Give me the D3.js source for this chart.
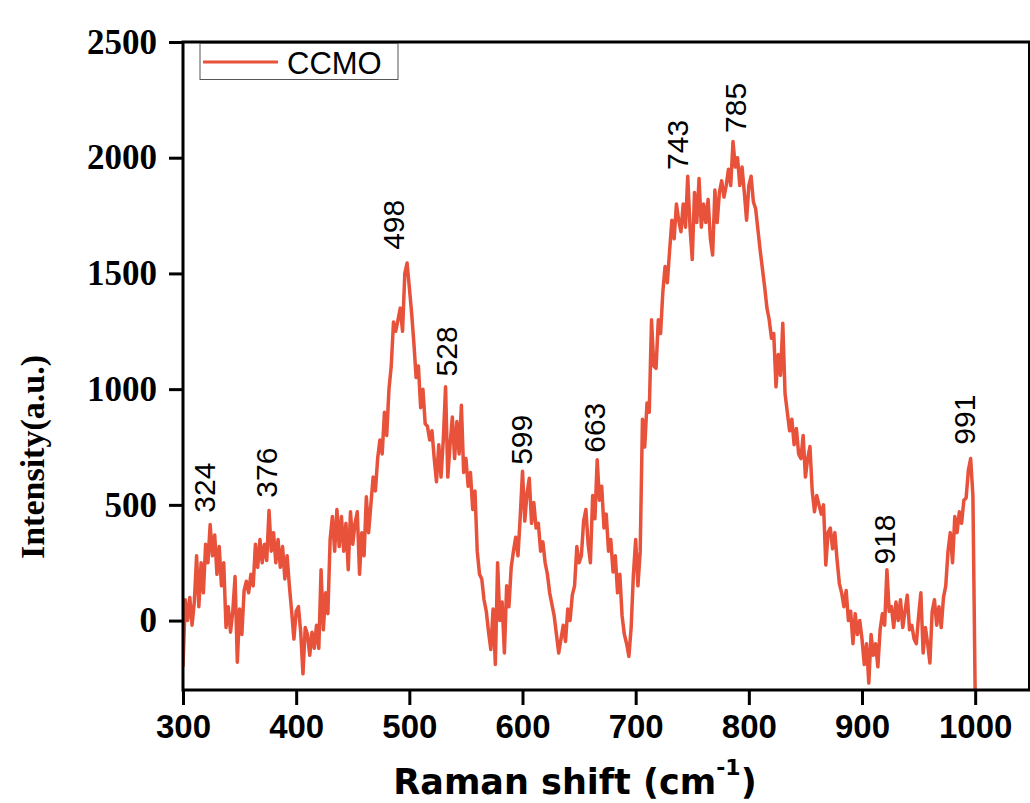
<!DOCTYPE html>
<html>
<head>
<meta charset="utf-8">
<script src="https://cdn.jsdelivr.net/npm/d3@7"></script>
<style>
  body { margin: 0; background: #fff; }
</style>
</head>
<body>
<div id="chart"></div>
<script>
// Raman shift grid, cm-1 (instrument step 2 cm-1)
const ramanShift = d3.range(300, 1001, 2);

// Intensity, a.u.
const intensity = [
  -200, 90, 0, 100, -20, 80, 280, 60, 250, 120,
  330, 250, 415, 280, 370, 200, 320, 150, 250, -30,
  60, -50, 40, 190, -180, 50, -60, 130, 170, 120,
  200, 150, 330, 230, 350, 250, 330, 260, 476, 300,
  380, 250, 350, 230, 320, 180, 280, 150, 40, -80,
  40, 60, -50, -230, -30, -60, -150, -50, -120, -20,
  -120, 220, -40, 120, 30, 350, 450, 300, 480, 320,
  450, 300, 420, 220, 470, 330, 420, 470, 200, 380,
  280, 535, 380, 500, 620, 560, 700, 780, 720, 900,
  800, 1000, 1100, 1290, 1250, 1300, 1350, 1250, 1500, 1545,
  1440, 1330, 1200, 1050, 1100, 920, 1000, 850, 840, 780,
  820, 700, 600, 760, 620, 780, 1010, 620, 760, 880,
  700, 860, 720, 930, 640, 700, 580, 640, 480, 560,
  300, 200, 180, 90, 40, -50, -125, 50, -190, 250,
  0, 80, -140, 150, 60, 230, 300, 360, 280, 450,
  645, 430, 550, 615, 420, 510, 400, 420, 300, 340,
  250, 200, 120, 70, 20, -60, -140, -80, -20, -90,
  50, 0, 110, 150, 320, 250, 280, 430, 480, 330,
  250, 540, 440, 695, 520, 580, 400, 460, 300, 350,
  210, 280, 120, 200, 20, -60, -100, -155, -30, 200,
  350, 150, 300, 870, 750, 940, 900, 1300, 1100, 1090,
  1300, 1240, 1420, 1530, 1460, 1600, 1730, 1650, 1800, 1730,
  1680, 1800, 1700, 1920, 1700, 1560, 1850, 1720, 1910, 1700,
  1800, 1720, 1820, 1650, 1580, 1860, 1720, 1850, 1900, 1830,
  1880, 1950, 1880, 2070, 1960, 2000, 1880, 1960, 1850, 1730,
  1880, 1920, 1810, 1780, 1690, 1600, 1520, 1440, 1350, 1300,
  1220, 1240, 1010, 1150, 1060, 1285, 980, 900, 820, 870,
  760, 830, 720, 700, 800, 620, 700, 752, 560, 470,
  540, 500, 460, 500, 240, 380, 400, 310, 380, 260,
  160, 120, 60, 130, 0, 40, -100, 30, -60, 0,
  -80, -190, -100, -270, -60, -150, -100, -200, -40, 30,
  -20, 220, 40, 60, -30, 80, 0, 90, -30, 40,
  110, -40, -20, -80, -100, 20, 120, -140, -30, -100,
  -183, 40, 90, -20, 60, -30, 100, 150, 300, 380,
  250, 450, 380, 470, 420, 520, 530, 650, 700, 540,
  -320
];

// Peak annotations
const peakLabels = ["324", "376", "498", "528", "599", "663", "743", "785", "918", "991"];
const peakLabelShift = [319, 374, 486, 533, 599, 664, 737, 788, 920, 991];
const peakLabelBase = [466, 531, 1602, 1055, 673, 725, 1947, 2107, 242, 760];

const xTicks = [300, 400, 500, 600, 700, 800, 900, 1000];
const yTicks = [0, 500, 1000, 1500, 2000, 2500];
const seriesName = "CCMO";

const width = 1030;
const height = 803;
const marginLeft = 183;
const marginTop = 42;
const plotRight = 1029.5;
const plotBottom = 690;
const lineColor = "#E8513A";

const svg = d3.select("#chart").append("svg")
  .attr("width", width)
  .attr("height", height);

const x = d3.scaleLinear().domain([300, 1048]).range([marginLeft, plotRight]);
const y = d3.scaleLinear().domain([-300, 2500]).range([plotBottom, marginTop]);

// clip for the curve
svg.append("clipPath").attr("id", "plot-clip")
  .append("rect")
  .attr("x", marginLeft).attr("y", marginTop)
  .attr("width", plotRight - marginLeft).attr("height", plotBottom - marginTop);

const points = ramanShift.map((s, i) => ({ s: s, v: intensity[i] }));

const line = d3.line()
  .x(d => x(d.s))
  .y(d => y(d.v));

svg.append("path")
  .datum(points)
  .attr("clip-path", "url(#plot-clip)")
  .attr("fill", "none")
  .attr("stroke", lineColor)
  .attr("stroke-width", 3.5)
  .attr("stroke-linejoin", "round")
  .attr("d", line);

// Оси
const xAxis = svg.append("g")
  .attr("transform", `translate(0, ${plotBottom})`)
  .call(d3.axisBottom(x).tickValues(xTicks).tickSize(15).tickPadding(10).tickFormat(d3.format("d")));

const yAxis = svg.append("g")
  .attr("transform", `translate(${marginLeft}, 0)`)
  .call(d3.axisLeft(y).tickValues(yTicks).tickSize(14).tickPadding(12).tickFormat(d3.format("d")));

[xAxis, yAxis].forEach(g => {
  g.select(".domain").remove();
  g.selectAll(".tick line").attr("stroke", "#000").attr("stroke-width", 3);
});

xAxis.selectAll(".tick text")
  .style("font-family", "'Liberation Sans', Arial, sans-serif")
  .style("font-weight", "bold")
  .style("font-size", "33px")
  .attr("fill", "#000");

yAxis.selectAll(".tick text")
  .style("font-family", "'Liberation Serif', 'Times New Roman', serif")
  .style("font-weight", "bold")
  .style("font-size", "35px")
  .attr("fill", "#000");

// frame
svg.append("rect")
  .attr("x", marginLeft)
  .attr("y", marginTop)
  .attr("width", plotRight - marginLeft)
  .attr("height", plotBottom - marginTop)
  .attr("fill", "none")
  .attr("stroke", "#000")
  .attr("stroke-width", 3);

// peak labels
peakLabels.forEach((t, i) => {
  svg.append("text")
    .attr("transform", `translate(${x(peakLabelShift[i])}, ${y(peakLabelBase[i])}) rotate(-90)`)
    .attr("dy", "0.35em")
    .attr("text-anchor", "start")
    .style("font-family", "'Liberation Sans', Arial, sans-serif")
    .style("font-size", "30px")
    .attr("fill", "#000")
    .text(t);
});

// legend
const legend = svg.append("g");
legend.append("rect")
  .attr("x", 200).attr("y", 43.5)
  .attr("width", 198).attr("height", 36)
  .attr("fill", "#fff")
  .attr("stroke", "#555")
  .attr("stroke-width", 1);
legend.append("line")
  .attr("x1", 203).attr("x2", 278)
  .attr("y1", 62).attr("y2", 62)
  .attr("stroke", lineColor)
  .attr("stroke-width", 3);
legend.append("text")
  .attr("x", 287).attr("y", 74)
  .style("font-family", "'Liberation Sans', Arial, sans-serif")
  .style("font-size", "31px")
  .attr("fill", "#000")
  .text(seriesName);

// axis titles
const xTitle = svg.append("text")
  .attr("x", 575)
  .attr("y", 794)
  .attr("text-anchor", "middle")
  .style("font-family", "'DejaVu Sans', Verdana, sans-serif")
  .style("font-weight", "bold")
  .style("font-size", "35px")
  .attr("fill", "#000");
xTitle.append("tspan").text("Raman shift (cm");
xTitle.append("tspan").attr("dy", -19).style("font-size", "22px").text("-1");
xTitle.append("tspan").attr("dy", 19).text(")");

svg.append("text")
  .attr("transform", "translate(32, 457) rotate(-90)")
  .attr("dy", "0.35em")
  .attr("text-anchor", "middle")
  .style("font-family", "'Liberation Serif', 'Times New Roman', serif")
  .style("font-weight", "bold")
  .style("font-size", "34px")
  .attr("fill", "#000")
  .text("Intensity(a.u.)");
</script>
</body>
</html>
